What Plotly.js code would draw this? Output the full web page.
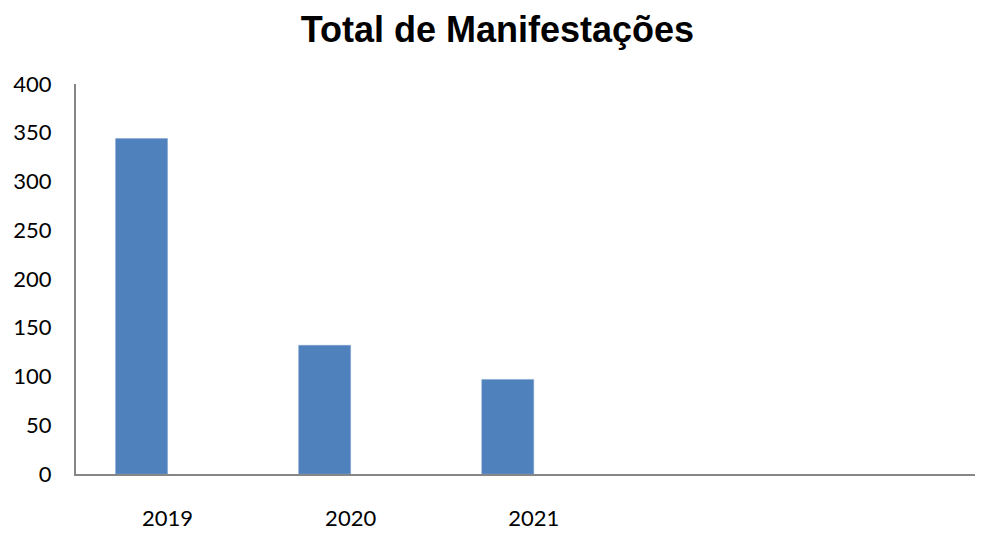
<!DOCTYPE html>
<html>
<head>
<meta charset="utf-8">
<script src="https://cdn.plot.ly/plotly-3.0.1.min.js"></script>
<style>html,body{margin:0;padding:0;background:#fff;}#chart{width:981px;height:533px;}</style>
</head>
<body>
<div id="chart"></div>
<script>
const categories = ["2019", "2020", "2021"];
const positions = [0, 1, 2];
const totals = [344, 132, 97];
const yTicks = [0, 50, 100, 150, 200, 250, 300, 350, 400];

const trace = {
  type: "bar",
  x: positions,
  y: totals,
  width: 0.284,
  offset: -0.284,
  marker: {color: "#4F81BD", line: {color: "#7FA3D1", width: 0.5}},
  hoverinfo: "x+y"
};

const layout = {
  width: 981,
  height: 533,
  margin: {l: 76, r: 6, t: 84, b: 59},
  paper_bgcolor: "#ffffff",
  plot_bgcolor: "#ffffff",
  showlegend: false,
  title: {
    text: "<b>Total de Manifestações</b>",
    font: {family: "Liberation Sans, Arial, sans-serif", size: 36, color: "#000"},
    x: 0.507, xanchor: "center", y: 0.945, yanchor: "middle"
  },
  xaxis: {
    type: "linear",
    range: [-0.5, 4.41],
    tickvals: positions,
    ticktext: categories,
    showgrid: false,
    zeroline: false,
    showline: true,
    linecolor: "#868686",
    linewidth: 2,
    ticks: "",
    ticklabelstandoff: 24,
    tickfont: {family: "Lato, Open Sans, sans-serif", size: 22, color: "#000"}
  },
  yaxis: {
    range: [0, 400],
    tickvals: yTicks,
    ticktext: yTicks.map(String),
    showgrid: false,
    zeroline: false,
    showline: true,
    linecolor: "#868686",
    linewidth: 2,
    ticks: "",
    ticklabelstandoff: 18,
    tickfont: {family: "Lato, Open Sans, sans-serif", size: 22, color: "#000"}
  }
};

Plotly.newPlot("chart", [trace], layout, {displayModeBar: false, staticPlot: true});
</script>
</body>
</html>
